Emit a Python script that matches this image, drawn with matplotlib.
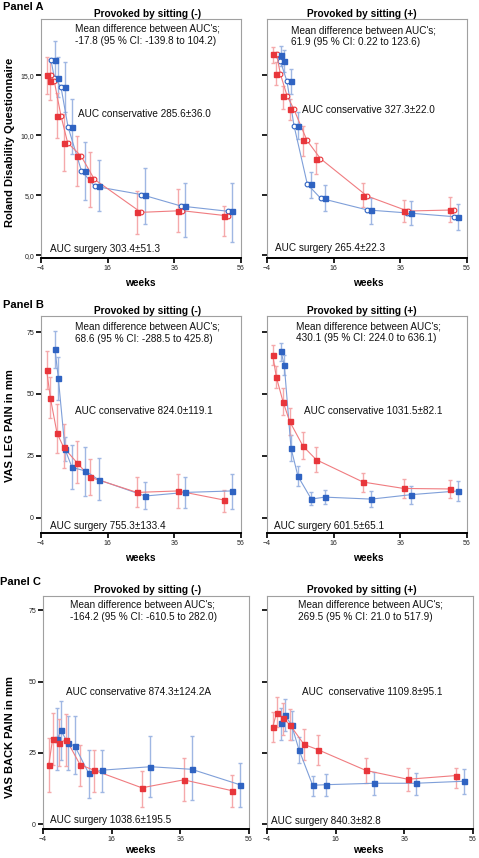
import numpy as np
import matplotlib.pyplot as plt

plt.rcParams['font.family'] = ['Liberation Sans', 'DejaVu Sans']

# measurement times (weeks), conservative and surgery groups
weeks_con = [-2.3, -1.2, 0.8, 2.8, 6.8, 10.8, 24.8, 37.0, 51.0]
weeks_sur = [0.2, 1.2, 3.2, 5.3, 9.3, 13.3, 27.3, 39.3, 53.3]

# Panel A, Roland Disability Questionnaire
a_minus_con = [15.0, 14.47, 11.6, 9.36, 8.28, 6.33, 3.58, 3.72, 3.28]
a_minus_con_hi = [16.47, 16.3, 13.5, 11.8, 9.9, 8.6, 5.36, 5.53, 4.08]
a_minus_con_lo = [13.4, 12.9, 9.8, 7.0, 5.8, 4.05, 1.75, 1.94, 1.64]
a_minus_sur = [16.25, 14.8, 14.0, 10.7, 7.06, 5.75, 5.06, 4.1, 3.67]
a_minus_sur_hi = [17.86, 16.5, 16.1, 13.0, 9.47, 7.9, 7.3, 6.03, 6.05]
a_minus_sur_lo = [14.6, 13.2, 11.9, 8.4, 4.64, 3.67, 2.64, 1.53, 1.14]

a_plus_con = [16.72, 15.1, 13.3, 12.2, 9.56, 8.06, 4.94, 3.69, 3.78]
a_plus_con_hi = [17.33, 16.08, 14.08, 13.0, 10.75, 9.36, 6.0, 4.64, 4.83]
a_plus_con_lo = [15.97, 14.2, 12.17, 11.3, 8.3, 6.75, 4.03, 2.8, 2.8]
a_plus_sur = [16.64, 16.17, 14.47, 10.8, 5.92, 4.75, 3.78, 3.53, 3.22]
a_plus_sur_hi = [17.4, 17.1, 15.55, 11.9, 6.97, 5.83, 4.8, 4.5, 4.3]
a_plus_sur_lo = [15.8, 15.3, 13.4, 9.7, 4.8, 3.7, 2.64, 2.5, 2.14]

# Panel B, VAS leg pain
b_minus_con = [59.5, 48.5, 34.2, 28.4, 22.2, 16.3, 10.2, 10.8, 7.1]
b_minus_con_hi = [67.3, 56.8, 46.0, 37.8, 30.8, 23.6, 16.6, 17.5, 11.3]
b_minus_con_lo = [52.1, 40.1, 26.1, 19.9, 14.0, 9.2, 4.4, 4.0, 2.2]
b_minus_sur = [68.0, 56.4, 27.7, 20.3, 18.9, 15.3, 8.75, 10.2, 10.8]
b_minus_sur_hi = [75.5, 65.0, 32.7, 29.5, 28.7, 24.0, 14.5, 16.3, 17.6]
b_minus_sur_lo = [60.5, 47.7, 22.9, 11.7, 8.75, 7.0, 3.4, 3.9, 3.6]

b_plus_con = [65.8, 56.8, 46.9, 38.9, 28.9, 23.4, 14.4, 11.8, 11.6]
b_plus_con_hi = [69.9, 61.4, 52.6, 44.3, 34.6, 28.5, 18.2, 15.8, 15.3]
b_plus_con_lo = [61.8, 52.4, 41.3, 33.5, 23.8, 18.4, 10.4, 8.1, 8.1]
b_plus_sur = [67.2, 61.5, 28.1, 16.7, 7.5, 8.3, 7.5, 9.3, 10.8]
b_plus_sur_hi = [70.7, 65.8, 33.4, 21.0, 10.4, 11.2, 10.8, 12.7, 14.8]
b_plus_sur_lo = [63.4, 57.5, 23.0, 12.8, 5.1, 5.7, 4.4, 5.7, 6.9]

# Panel C, VAS back pain
c_minus_con = [20.8, 29.9, 28.5, 29.6, 20.8, 18.9, 12.7, 15.5, 11.7]
c_minus_con_hi = [30.1, 39.1, 36.9, 38.7, 27.8, 26.1, 18.7, 23.1, 17.1]
c_minus_con_lo = [11.2, 20.8, 20.2, 20.3, 13.4, 11.2, 5.9, 7.9, 5.9]
c_minus_sur = [29.9, 32.9, 28.5, 27.3, 17.8, 18.9, 20.1, 19.2, 13.8]
c_minus_sur_hi = [40.6, 43.3, 37.9, 37.8, 26.1, 26.1, 31.0, 30.8, 21.5]
c_minus_sur_lo = [18.9, 22.5, 19.0, 17.5, 9.1, 11.2, 9.4, 8.3, 5.9]

c_plus_con = [34.2, 39.0, 37.1, 34.6, 27.9, 26.1, 18.8, 15.7, 17.0]
c_plus_con_hi = [39.3, 44.5, 42.4, 40.2, 33.4, 31.3, 23.3, 19.7, 19.6]
c_plus_con_lo = [28.9, 34.0, 31.3, 29.5, 22.3, 20.7, 14.3, 11.5, 12.7]
c_plus_sur = [35.4, 38.3, 34.6, 26.1, 13.6, 13.8, 14.3, 14.3, 15.0]
c_plus_sur_hi = [40.7, 43.7, 39.5, 30.5, 17.0, 17.6, 18.4, 17.8, 19.3]
c_plus_sur_lo = [29.4, 32.7, 29.4, 21.3, 10.0, 10.0, 10.3, 10.3, 10.5]

xticks = [-4, 16, 36, 56]
a_yticks = [0, 5, 10, 15]
a_yticklabels = ['0,0', '5,0', '10,0', '15,0']
bc_yticks = [0, 25, 50, 75]
bc_yticklabels = ['0', '25', '50', '75']

RED, RED_L, RED_E = '#e8363b', '#f07c80', '#f5a9ab'
BLUE, BLUE_L, BLUE_E = '#2f63c2', '#7f9fd9', '#9fb7e3'

W, H = 479, 858
fig = plt.figure(figsize=(W / 100, H / 100), dpi=100)


def add_ax(left, top, right, bottom):
    return fig.add_axes([left / W, 1 - bottom / H, (right - left) / W, (bottom - top) / H])


def draw(ax, con, sur, ylim, yticks, ylabels, show_labels, circles=False):
    series = [(weeks_sur, sur, BLUE, BLUE_L, BLUE_E, -1.2),
              (weeks_con, con, RED, RED_L, RED_E, 1.2)]
    for x, (y, hi, lo), col, lcol, ecol, off in series:
        x = np.array(x); y = np.array(y)
        err = [y - np.array(lo), np.array(hi) - y]
        ax.errorbar(x, y, yerr=err, fmt='none', ecolor=ecol, elinewidth=1.0,
                    capsize=1.3, capthick=1.0, zorder=2)
        if circles:
            ax.plot(x + off, y, '-o', color=lcol, lw=0.8, ms=3.4, mfc='white',
                    mec=col, mew=0.8, zorder=3)
        else:
            ax.plot(x, y, '-', color=lcol, lw=0.8, zorder=3)
        ax.plot(x, y, 's', color=col, ms=3.6, zorder=4)
    ax.set_xlim(-4, 56)
    ax.set_ylim(*ylim)
    ax.set_xticks(xticks)
    ax.set_yticks(yticks)
    ax.set_yticklabels(ylabels if show_labels else [])
    ax.tick_params(axis='both', direction='out', length=3.5, width=1.4,
                   labelsize=5, pad=1.5, colors='#222222')
    for s in ['top', 'right', 'left']:
        ax.spines[s].set_color('#a0a0a0')
        ax.spines[s].set_linewidth(0.8)
    ax.spines['bottom'].set_color('black')
    ax.spines['bottom'].set_linewidth(1.4)


def notes(ax, mean_xy, mean_txt, con_xy, con_txt, sur_xy, sur_txt):
    kw = dict(fontsize=7.2, va='center', ha='left', color='#111111')
    ax.text(*mean_xy, mean_txt, linespacing=1.25, **kw)
    ax.text(*con_xy, con_txt, **kw)
    ax.text(*sur_xy, sur_txt, **kw)


# Panel A
ax = add_ax(41, 19, 241, 258)
draw(ax, (a_minus_con, a_minus_con_hi, a_minus_con_lo),
     (a_minus_sur, a_minus_sur_hi, a_minus_sur_lo),
     (-0.22, 19.67), a_yticks, a_yticklabels, True, circles=True)
notes(ax, (6.2, 18.35), "Mean difference between AUC's;\n-17.8 (95 % CI: -139.8 to 104.2)",
      (7.0, 11.8), 'AUC conservative 285.6±36.0', (-1.3, 0.56), 'AUC surgery 303.4±51.3')

ax = add_ax(267, 19, 467, 258)
draw(ax, (a_plus_con, a_plus_con_hi, a_plus_con_lo),
     (a_plus_sur, a_plus_sur_hi, a_plus_sur_lo),
     (-0.22, 19.67), a_yticks, a_yticklabels, False, circles=True)
notes(ax, (3.2, 18.25), "Mean difference between AUC's;\n61.9 (95 % CI: 0.22 to 123.6)",
      (6.6, 12.1), 'AUC conservative 327.3±22.0', (-1.5, 0.64), 'AUC surgery 265.4±22.3')

# Panel B
ax = add_ax(41, 316, 241, 533)
draw(ax, (b_minus_con, b_minus_con_hi, b_minus_con_lo),
     (b_minus_sur, b_minus_sur_hi, b_minus_sur_lo),
     (-6.2, 81.5), bc_yticks, bc_yticklabels, True)
notes(ax, (6.2, 74.7), "Mean difference between AUC's;\n68.6 (95 % CI: -288.5 to 425.8)",
      (6.2, 43.1), 'AUC conservative 824.0±119.1', (-1.3, -3.4), 'AUC surgery 755.3±133.4')

ax = add_ax(267, 316, 467, 533)
draw(ax, (b_plus_con, b_plus_con_hi, b_plus_con_lo),
     (b_plus_sur, b_plus_sur_hi, b_plus_sur_lo),
     (-6.2, 81.5), bc_yticks, bc_yticklabels, False)
notes(ax, (4.8, 75.0), "Mean difference between AUC's;\n430.1 (95 % CI: 224.0 to 636.1)",
      (7.1, 43.0), 'AUC conservative 1031.5±82.1', (-1.8, -3.4), 'AUC surgery 601.5±65.1')

# Panel C
ax = add_ax(43, 596, 249, 829)
draw(ax, (c_minus_con, c_minus_con_hi, c_minus_con_lo),
     (c_minus_sur, c_minus_sur_hi, c_minus_sur_lo),
     (-1.75, 80.0), bc_yticks, bc_yticklabels, True)
notes(ax, (3.9, 74.9), "Mean difference between AUC's;\n-164.2 (95 % CI: -610.5 to 282.0)",
      (2.8, 46.4), 'AUC conservative 874.3±124.2A', (-1.9, 1.5), 'AUC surgery 1038.6±195.5')

ax = add_ax(267, 596, 473, 829)
draw(ax, (c_plus_con, c_plus_con_hi, c_plus_con_lo),
     (c_plus_sur, c_plus_sur_hi, c_plus_sur_lo),
     (-1.75, 80.0), bc_yticks, bc_yticklabels, False)
notes(ax, (5.0, 74.9), "Mean difference between AUC's;\n269.5 (95 % CI: 21.0 to 517.9)",
      (6.3, 46.3), 'AUC  conservative 1109.8±95.1', (-2.7, 1.2), 'AUC surgery 840.3±82.8')

# figure-level labels (pixel positions)
def ftext(x, y, s, **kw):
    fig.text(x / W, 1 - y / H, s, **kw)

bold = dict(fontweight='bold', va='center')
ftext(3, 7, 'Panel A', fontsize=8, ha='left', **bold)
ftext(3, 305, 'Panel B', fontsize=8, ha='left', **bold)
ftext(0, 582, 'Panel C', fontsize=8, ha='left', **bold)
for y in (14, 311, 590):
    ftext(148, y, 'Provoked by sitting (-)', fontsize=7.3, ha='center', **bold)
    ftext(362, y, 'Provoked by sitting (+)', fontsize=7.3, ha='center', **bold)
for y in (283, 558, 850):
    ftext(140, y, 'weeks', fontsize=7.3, ha='center', **bold)
    ftext(368, y, 'weeks', fontsize=7.3, ha='center', **bold)
ftext(10, 142, 'Roland Disability Questionnaire', fontsize=8, ha='center', rotation=90, **bold)
ftext(10, 426, 'VAS LEG PAIN in mm', fontsize=8, ha='center', rotation=90, **bold)
ftext(10, 737, 'VAS BACK PAIN in mm', fontsize=8, ha='center', rotation=90, **bold)

fig.savefig('out.png', dpi=100)
